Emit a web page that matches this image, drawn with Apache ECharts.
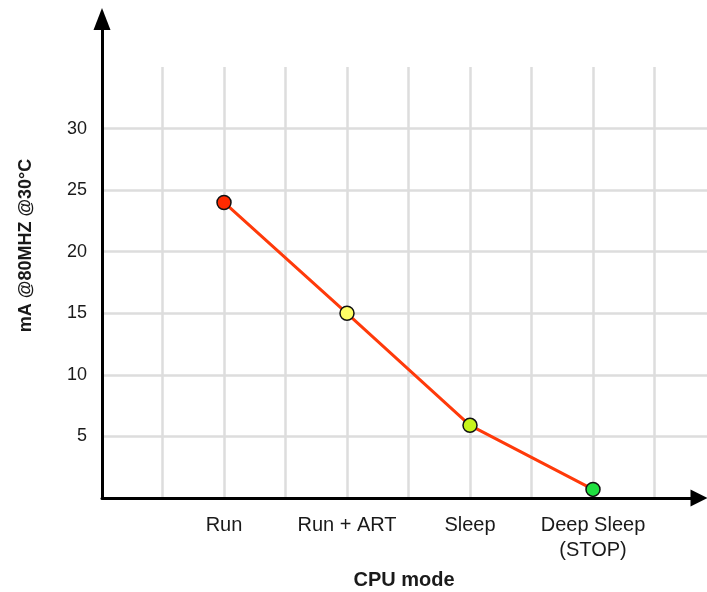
<!DOCTYPE html>
<html>
<head>
<meta charset="utf-8">
<script src="https://cdn.jsdelivr.net/npm/echarts@6/dist/echarts.min.js"></script>
<style>
html,body{margin:0;padding:0;background:#fff;}
#chart{width:707px;height:592px;}
</style>
</head>
<body>
<div id="chart"></div>
<script>
const categories = ['Run', 'Run + ART', 'Sleep', 'Deep Sleep\n(STOP)'];
const currentMA = [24, 15, 5.9, 0.7];
const markerColors = ['#ff2a00', '#ffff66', '#c6f51c', '#1fe040'];
const yTickLabels = [5, 10, 15, 20, 25, 30];
const yAxisName = 'mA @80MHZ @30°C';
const xAxisName = 'CPU mode';

const FONT = '"Liberation Sans", Arial, Helvetica, sans-serif';
const chart = echarts.init(document.getElementById('chart'), null, {renderer: 'canvas'});

const seriesData = categories.map((c, i) => ({
  value: [i + 1, currentMA[i]],
  itemStyle: {color: markerColors[i]}
}));

const option = {
  backgroundColor: '#ffffff',
  animation: false,
  grid: [
    {left: 101, right: 0, top: 67, bottom: 94, containLabel: false, outerBoundsMode: 'none'},
    {left: 102, right: 8, top: 19, bottom: 94, containLabel: false, outerBoundsMode: 'none'}
  ],
  xAxis: [
    {
      gridIndex: 0, type: 'value', min: 0, max: (707 - 101) / 123, interval: 0.5,
      axisLine: {show: false}, axisTick: {show: false},
      splitLine: {show: true, showMinLine: false, showMaxLine: false, lineStyle: {color: '#dddddd', width: 2.5}},
      axisLabel: {
        margin: 15, color: '#1a1a1a', fontFamily: FONT, fontSize: 20, lineHeight: 25,
        showMinLabel: true, showMaxLabel: false,
        formatter: v => {
          const i = Math.round(v);
          return (Math.abs(v - i) < 1e-6 && i >= 1 && i <= categories.length) ? categories[i - 1] : '';
        }
      },
      name: xAxisName, nameLocation: 'middle', nameGap: 72,
      nameTextStyle: {color: '#1a1a1a', fontFamily: FONT, fontSize: 20, fontWeight: 'bold'}
    },
    {
      gridIndex: 1, type: 'value', min: 0, max: 1,
      axisLine: {show: true, symbol: ['none', 'triangle'], symbolSize: [17, 17], lineStyle: {color: '#000', width: 3}},
      axisTick: {show: false}, axisLabel: {show: false}, splitLine: {show: false}
    }
  ],
  yAxis: [
    {
      gridIndex: 0, type: 'value', min: 0, max: 35, interval: 5,
      axisLine: {show: false}, axisTick: {show: false},
      splitLine: {show: true, showMinLine: false, showMaxLine: false, lineStyle: {color: '#dddddd', width: 2.5}},
      axisLabel: {
        margin: 14, color: '#1a1a1a', fontFamily: FONT, fontSize: 18,
        formatter: v => yTickLabels.includes(v) ? String(v) : ''
      }
    },
    {
      gridIndex: 1, type: 'value', min: 0, max: 1,
      axisLine: {show: true, symbol: ['none', 'triangle'], symbolSize: [17, 22], lineStyle: {color: '#000', width: 3}},
      axisTick: {show: false}, axisLabel: {show: false}, splitLine: {show: false},
      name: yAxisName, nameLocation: 'middle', nameGap: 67, nameRotate: 90,
      nameTextStyle: {color: '#1a1a1a', fontFamily: FONT, fontSize: 18, fontWeight: 'bold', padding: [0, 0, 0, 26]}
    }
  ],
  series: [{
    type: 'line',
    xAxisIndex: 0, yAxisIndex: 0,
    data: seriesData,
    symbol: 'circle', symbolSize: 14,
    lineStyle: {color: '#ff3a0a', width: 3},
    itemStyle: {borderColor: '#111', borderWidth: 1.5},
    z: 5
  }]
};
chart.setOption(option);
</script>
</body>
</html>
